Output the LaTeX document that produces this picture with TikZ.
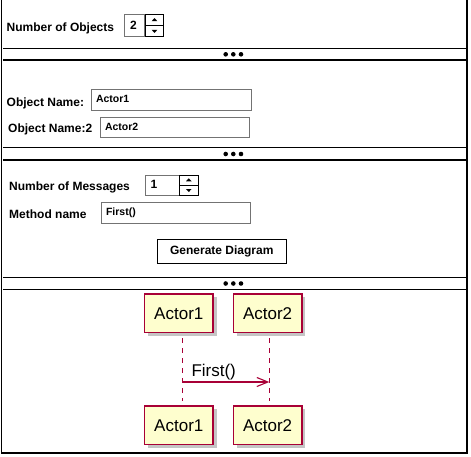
\documentclass[tikz,border=0pt]{standalone}
\usepackage{fontspec}
\setmainfont{Liberation Sans}
\usetikzlibrary{positioning, calc, arrows.meta, shadows}

\definecolor{umlline}{HTML}{A80036}
\definecolor{umlfill}{HTML}{FEFECE}

\begin{document}
\begin{tikzpicture}[%
    x=1pt, y=-1pt,              % pixel like units, origin top left
    >={Straight Barb[length=11pt,width=9pt]}, % open UML arrow
    ]

\tikzset{
  lbl/.style={anchor=base west, inner sep=0pt, font=\bfseries\fontsize{12}{14}\selectfont},
  field/.style={draw=black!55, line width=0.8pt, anchor=north west, outer sep=0pt,
                inner xsep=5pt, inner ysep=0pt, align=left, text height=8pt, text depth=2.5pt,
                font=\bfseries\fontsize{10.5}{12}\selectfont},
  spin/.style={draw, line width=0.8pt, outer sep=0pt, inner sep=0pt, minimum width=18.4pt, minimum height=#1},
  btn/.style={draw, line width=0.9pt, minimum width=129pt, minimum height=24pt,
              font=\bfseries\fontsize{12}{14}\selectfont},
  divider/.style={line width=1.3pt},
  umlbox/.style={draw=umlline, fill=umlfill, line width=1.3pt, minimum width=68.5pt, minimum height=38.7pt,
                 font=\fontsize{17}{20}\selectfont,
                 drop shadow={shadow xshift=3.5pt, shadow yshift=-3.5pt, fill=black!45, opacity=0.5}},
  lifeline/.style={draw=umlline, line width=1pt, dash pattern=on 5pt off 5pt, dash phase=5pt, shorten >=4pt},
  msg/.style={->, draw=umlline, line width=1.1pt}
  };

\useasboundingbox (0,0) rectangle (471,456);

% Frame and dividers
\draw[line width=1.6pt] (1.5,0) -- (1.5,453) -- (467,453) -- (467,0);

\draw[divider] (3,48.5) -- (466,48.5) (3,60) -- (466,60);
\fill (225.7,54.3) circle (2.3pt) (233.3,54.3) circle (2.3pt) (241,54.3) circle (2.3pt);
\draw[divider] (3,147.7) -- (466,147.7) (3,160) -- (466,160);
\fill (225.7,154) circle (2.3pt) (233.3,154) circle (2.3pt) (241,154) circle (2.3pt);
\draw[divider] (3,277.5) -- (466,277.5) (3,289.5) -- (466,289.5);
\fill (225.7,283.5) circle (2.3pt) (233.3,283.5) circle (2.3pt) (241,283.5) circle (2.3pt);

% OBJECTS
\node[lbl] (numObjLbl) at (6.5,31) {Number of Objects};
\node[field, inner xsep=6pt, text width=8.7pt, minimum height=22.4pt, text height=9pt, text depth=2pt,
      font=\bfseries\fontsize{12}{14}\selectfont] (numObj) at (124,14.3) {2};
\node[spin=11.2pt, anchor=north west] (upObj) at ([xshift=0.6pt]numObj.north east) {};
\node[spin=11.2pt, below=0pt of upObj] (downObj) {};
\fill ($(upObj)+(-2.8,1.2)$) -- ($(upObj)+(2.8,1.2)$) -- ($(upObj)+(0,-1.8)$) -- cycle;
\fill ($(downObj)+(-2.8,-1.2)$) -- ($(downObj)+(2.8,-1.2)$) -- ($(downObj)+(0,1.8)$) -- cycle;

\node[lbl] (nameALbl) at (6.5,106) {Object Name:};
\node[field, text width=150pt, minimum height=20.7pt] (nameA) at (91,89.3) {Actor1};
\node[lbl] (nameBLbl) at (8,132.5) {Object Name:2};
\node[field, text width=139.3pt, minimum height=20.4pt] (nameB) at (100,117.3) {Actor2};

% MESSAGES
\node[lbl] (numMsgLbl) at (9,190.5) {Number of Messages};
\node[field, inner xsep=5.2pt, text width=23.3pt, minimum height=20.3pt, text height=9pt, text depth=2pt,
      font=\bfseries\fontsize{12}{14}\selectfont] (numMsg) at (145.3,175) {1};
\node[spin=10.15pt, anchor=north west] (upMsg) at ([xshift=0.6pt]numMsg.north east) {};
\node[spin=10.15pt, below=0pt of upMsg] (downMsg) {};
\fill ($(upMsg)+(-2.8,1.2)$) -- ($(upMsg)+(2.8,1.2)$) -- ($(upMsg)+(0,-1.8)$) -- cycle;
\fill ($(downMsg)+(-2.8,-1.2)$) -- ($(downMsg)+(2.8,-1.2)$) -- ($(downMsg)+(0,1.8)$) -- cycle;

\node[lbl] (methodLbl) at (9,218) {Method name};
\node[field, text width=139.3pt, minimum height=20.7pt] (method) at (101,202.3) {First()};

\node[btn] (generate) at (221.8,251.3) {Generate Diagram};

% DIAGRAM
\node[umlbox] (a1top) at (178.8,313.3) {Actor1};
\node[umlbox, right=19pt of a1top] (a2top) {Actor2};
\node[umlbox, below=72pt of a1top] (a1bot) {Actor1};
\node[umlbox, below=72pt of a2top] (a2bot) {Actor2};

\coordinate (msgFrom) at (182.5,382);
\coordinate (msgTo) at (269.3,382);

\draw[lifeline] (a1top.south -| msgFrom) -- (a1bot.north -| msgFrom);
\draw[lifeline] (a2top.south -| msgTo) -- (a2bot.north -| msgTo);

\draw[msg] (msgFrom) -- (msgTo);
\node[anchor=base west, inner sep=0pt, font=\fontsize{17}{20}\selectfont] (msgLbl) at (191.3,376.7) {First()};

\end{tikzpicture}
\end{document}
